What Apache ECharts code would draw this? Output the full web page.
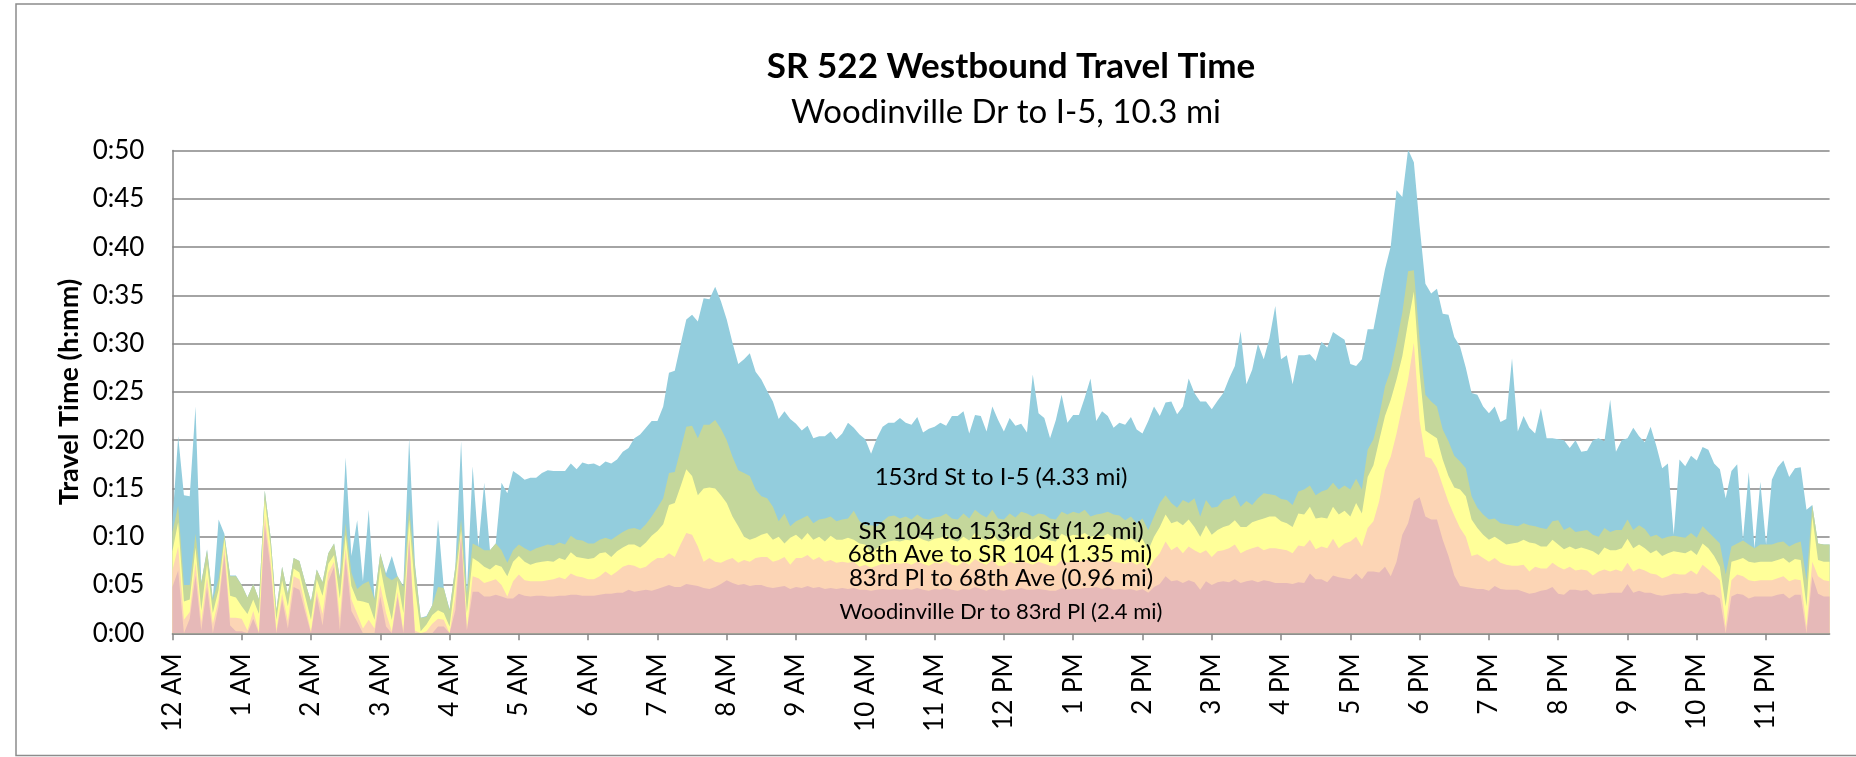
<!DOCTYPE html>
<html>
<head>
<meta charset="utf-8">
<title>SR 522 Westbound Travel Time</title>
<script src="https://cdn.jsdelivr.net/npm/echarts@6/dist/echarts.min.js"></script>
<style>
  html, body { margin: 0; padding: 0; background: #ffffff; }
  #chart { width: 1856px; height: 757px; }
</style>
</head>
<body>
<div id="chart"></div>
<script>
// Hour tick labels along the time axis (one category every 5 minutes).
const hourLabels = ['12 AM','1 AM','2 AM','3 AM','4 AM','5 AM','6 AM','7 AM','8 AM','9 AM','10 AM','11 AM',
                    '12 PM','1 PM','2 PM','3 PM','4 PM','5 PM','6 PM','7 PM','8 PM','9 PM','10 PM','11 PM'];

// Y-axis tick values, in minutes.
const yTicks = [0, 5, 10, 15, 20, 25, 30, 35, 40, 45, 50];

// Cumulative travel time (minutes) from Woodinville Dr to the end of each segment,
// one value per 5-minute interval, 12 values per row = one hour.
const toPl83 = [
  4.8, 6.5, 0, 1.5, 6.0, 0.3, 4.8, 0, 2.8, 8.2, 0.8, 0.2,
  0.2, 0, 1.5, 0, 11.2, 6.8, 0, 3.5, 0.5, 4.8, 4.5, 2.2,
  0, 3.9, 0.8, 5.4, 6.9, 0.3, 7.8, 2.3, 1.2, 0, 0, 0,
  3.8, 0.7, 0, 3.8, 0, 9.7, 0, 0, 0, 0, 0.7, 0.7,
  0, 2.4, 10.0, 0.3, 4.3, 4.3, 3.8, 3.8, 4.0, 3.8, 3.6, 3.6,
  4.1, 3.9, 3.8, 3.9, 3.9, 3.8, 3.8, 3.9, 3.9, 4.0, 4.0, 3.9,
  3.9, 3.9, 4.0, 4.1, 4.1, 4.2, 4.2, 4.5, 4.3, 4.4, 4.5, 4.4,
  4.6, 4.8, 5.0, 4.8, 4.8, 5.1, 5.0, 4.9, 4.7, 4.6, 4.8, 5.1,
  5.5, 5.2, 5.0, 5.1, 4.9, 5.0, 5.0, 4.8, 4.7, 4.8, 4.9, 4.6,
  4.8, 4.7, 4.9, 4.7, 4.8, 4.6, 4.7, 4.6, 4.7, 4.6, 4.7, 4.5,
  4.5, 4.4, 4.5, 4.6, 4.5, 4.6, 4.5, 4.6, 4.5, 4.7, 4.5, 4.4,
  4.6, 4.5, 4.7, 4.5, 4.4, 4.6, 4.5, 4.8, 4.6, 4.4, 4.7, 4.5,
  4.4, 4.6, 4.5, 4.7, 4.5, 4.5, 4.6, 4.5, 4.4, 4.4, 4.7, 4.5,
  4.6, 4.6, 4.7, 4.7, 4.8, 4.6, 4.8, 4.5, 4.6, 4.5, 4.6, 4.4,
  4.6, 4.2, 4.8, 5.1, 5.9, 5.4, 5.5, 5.2, 5.5, 5.3, 4.5, 5.4,
  5.0, 5.3, 5.4, 5.3, 5.6, 5.2, 5.4, 5.5, 5.3, 5.5, 5.4, 5.2,
  5.2, 5.2, 5.1, 5.3, 5.2, 6.2, 5.6, 5.6, 5.3, 6.0, 5.8, 5.7,
  5.6, 6.2, 5.6, 6.4, 6.4, 6.3, 6.9, 5.9, 7.4, 10.2, 11.4, 13.7,
  14.1, 12.1, 11.8, 11.8, 9.7, 8.0, 6.0, 4.9, 4.8, 4.7, 4.6, 4.6,
  4.4, 4.9, 4.6, 4.5, 4.5, 4.5, 4.3, 4.1, 4.2, 4.4, 4.5, 4.8,
  4.1, 4.0, 4.5, 4.5, 4.4, 4.5, 4.0, 4.1, 4.1, 4.2, 4.2, 4.2,
  5.1, 4.2, 4.4, 4.2, 4.2, 4.0, 3.9, 4.0, 4.1, 4.1, 4.2, 4.1,
  4.1, 4.3, 4.0, 4.0, 3.6, 0, 3.8, 4.1, 4.0, 3.6, 3.8, 3.8,
  3.8, 3.8, 4.0, 4.1, 3.6, 4.0, 4.0, 0, 5.9, 4.1, 3.8, 3.8
];

const toAve68 = [
  6.5, 9.0, 1.4, 2.2, 7.3, 1.2, 5.8, 1.0, 3.5, 9.0, 1.6, 1.6,
  1.5, 0.3, 2.3, 0.1, 12.2, 7.6, 0.3, 4.1, 1.3, 5.9, 5.6, 2.8,
  0.2, 4.4, 2.0, 6.3, 7.4, 1.6, 8.8, 3.5, 2.0, 0.5, 1.4, 0.5,
  5.0, 2.1, 0.2, 4.3, 0.2, 10.3, 0.3, 0, 0.2, 1.0, 1.5, 1.4,
  0, 3.8, 10.5, 0.4, 5.9, 5.7, 5.2, 5.4, 5.6, 5.0, 3.8, 5.4,
  6.1, 5.5, 5.4, 5.4, 5.4, 5.5, 5.6, 5.8, 5.6, 6.2, 5.9, 5.8,
  5.6, 5.6, 5.9, 6.4, 6.0, 6.4, 6.9, 7.1, 7.0, 6.7, 6.9, 7.4,
  7.8, 7.8, 8.3, 7.9, 9.2, 10.4, 10.2, 9.0, 7.4, 7.8, 7.4, 7.3,
  7.6, 7.8, 7.3, 7.6, 7.4, 7.8, 7.9, 7.9, 7.4, 7.6, 7.9, 7.1,
  7.8, 7.8, 8.1, 7.6, 7.9, 7.4, 7.6, 7.3, 7.4, 7.3, 7.4, 6.9,
  7.1, 6.8, 7.0, 7.2, 7.1, 7.3, 7.2, 7.3, 7.1, 7.4, 7.2, 7.0,
  7.3, 7.2, 7.5, 7.1, 7.0, 7.4, 7.1, 7.7, 7.3, 7.1, 7.6, 7.0,
  7.0, 7.4, 7.2, 7.5, 7.3, 7.1, 7.4, 7.2, 7.0, 7.0, 7.6, 7.3,
  7.5, 7.4, 7.6, 7.6, 7.5, 7.4, 7.7, 7.4, 7.3, 7.2, 7.4, 7.1,
  7.4, 6.6, 7.6, 8.3, 9.5, 8.6, 9.0, 8.3, 9.0, 8.6, 8.3, 8.6,
  7.9, 8.5, 8.6, 8.8, 9.2, 8.3, 8.6, 8.8, 9.0, 8.6, 8.8, 8.8,
  8.7, 8.6, 8.3, 9.1, 9.0, 9.7, 8.7, 9.0, 8.8, 9.8, 8.8, 9.3,
  9.5, 10.0, 9.0, 10.9, 11.6, 13.7, 16.9, 18.3, 20.7, 23.5, 26.3, 30.1,
  22.0, 18.3, 18.1, 17.1, 15.3, 13.6, 12.2, 10.9, 10.0, 8.0, 8.2, 7.8,
  7.4, 7.8, 7.3, 7.1, 7.0, 7.0, 7.1, 6.4, 6.9, 6.7, 6.7, 7.3,
  6.9, 6.6, 6.9, 6.5, 6.6, 6.5, 6.0, 6.4, 6.6, 6.4, 6.6, 6.4,
  7.3, 6.4, 6.7, 6.5, 6.2, 6.1, 5.7, 5.9, 6.2, 6.1, 6.1, 6.5,
  6.1, 7.1, 6.6, 6.1, 5.5, 0.7, 5.5, 6.1, 5.9, 5.5, 5.4, 5.5,
  5.5, 5.5, 5.7, 5.9, 5.4, 5.6, 5.5, 0.7, 7.4, 5.9, 5.5, 5.4
];

const toSR104 = [
  8.5, 11.5, 3.3, 3.5, 8.9, 2.4, 7.2, 2.1, 4.5, 9.8, 3.9, 3.7,
  2.8, 2.0, 3.5, 2.0, 13.8, 9.0, 1.4, 5.5, 2.8, 6.7, 6.3, 3.8,
  1.4, 5.6, 3.9, 7.2, 8.1, 3.6, 10.2, 4.9, 3.4, 3.3, 3.1, 1.4,
  6.9, 3.8, 1.4, 5.5, 2.1, 11.8, 4.8, 0.2, 0.9, 1.9, 2.4, 2.1,
  0.7, 5.5, 10.7, 2.1, 7.8, 7.4, 6.9, 6.6, 7.1, 6.9, 5.9, 7.4,
  8.0, 7.4, 7.1, 7.3, 7.4, 7.5, 7.4, 7.8, 7.6, 8.4, 7.9, 7.8,
  7.7, 7.8, 8.3, 8.4, 7.9, 8.5, 8.9, 9.2, 9.2, 8.9, 9.4, 10.1,
  10.6, 11.3, 13.3, 13.5, 15.2, 17.0, 16.3, 14.3, 15.0, 15.1, 15.0, 14.3,
  13.5, 12.1, 11.1, 10.0, 9.7, 9.9, 10.2, 10.4, 9.7, 10.0, 9.3, 9.9,
  10.2, 9.7, 10.4, 9.7, 10.0, 9.5, 10.1, 9.7, 9.7, 9.9, 9.7, 9.3,
  9.2, 8.3, 8.8, 9.3, 9.5, 9.6, 9.5, 9.7, 9.6, 10.0, 9.7, 9.5,
  9.8, 9.9, 10.1, 9.7, 9.5, 10.0, 9.6, 10.4, 9.9, 9.6, 10.3, 9.6,
  9.5, 10.1, 9.8, 10.2, 10.0, 9.7, 10.1, 9.9, 9.6, 9.5, 10.3, 10.0,
  10.2, 10.1, 10.4, 10.0, 10.1, 10.0, 10.3, 9.9, 9.8, 9.6, 9.9, 9.4,
  9.8, 8.6, 10.0, 11.0, 12.3, 11.4, 11.6, 11.2, 11.8, 11.0, 10.0, 11.2,
  10.2, 10.7, 11.0, 11.2, 11.7, 11.0, 11.0, 11.5, 11.7, 11.9, 12.1, 12.1,
  11.6, 11.4, 11.0, 12.4, 12.3, 13.1, 11.9, 12.0, 11.9, 13.1, 12.3, 12.7,
  12.1, 13.5, 12.4, 16.2, 17.4, 20.0, 22.5, 24.2, 26.3, 28.7, 32.2, 35.4,
  27.0, 21.0, 20.6, 20.2, 18.0, 16.3, 15.1, 14.9, 14.2, 11.8, 10.9, 10.2,
  9.7, 10.0, 9.6, 9.2, 9.3, 9.4, 9.7, 9.4, 9.3, 9.0, 9.0, 9.7,
  9.2, 8.7, 9.0, 8.7, 8.9, 8.7, 8.5, 8.1, 8.9, 8.6, 8.6, 8.8,
  9.8, 8.8, 9.2, 8.8, 8.3, 8.6, 8.0, 8.3, 8.5, 8.4, 8.3, 8.6,
  8.1, 9.3, 8.8, 8.0, 6.9, 2.8, 7.4, 7.6, 7.8, 7.4, 7.3, 7.4,
  7.4, 7.4, 7.6, 7.8, 7.3, 7.7, 7.6, 2.8, 12.1, 7.6, 7.4, 7.4
];

const toSt153 = [
  10.5, 13.2, 5.0, 5.0, 10.3, 5.2, 8.6, 3.4, 5.6, 10.2, 5.9, 5.9,
  5.0, 3.7, 5.1, 3.5, 14.8, 10.0, 2.4, 6.9, 4.1, 7.8, 7.5, 5.3,
  3.3, 6.6, 5.3, 8.3, 9.3, 5.7, 11.4, 6.3, 4.6, 5.1, 5.4, 3.5,
  8.3, 5.9, 5.5, 5.9, 4.8, 13.0, 6.9, 1.6, 1.7, 2.9, 4.8, 4.7,
  2.4, 6.9, 11.8, 4.1, 9.3, 9.0, 8.6, 8.6, 9.3, 8.6, 7.3, 8.6,
  9.2, 8.8, 8.5, 8.8, 9.0, 9.2, 9.1, 9.4, 9.2, 10.1, 9.7, 9.6,
  9.3, 9.3, 9.7, 9.9, 9.7, 10.1, 10.5, 10.8, 10.9, 10.7, 11.3, 12.1,
  13.0, 14.0, 16.6, 16.7, 19.0, 21.4, 21.5, 20.2, 21.6, 21.6, 22.1, 21.2,
  20.0, 18.3, 16.9, 16.6, 16.3, 14.9, 14.2, 14.0, 13.1, 11.6, 12.4, 11.1,
  11.6, 11.9, 12.2, 11.4, 11.8, 11.9, 12.1, 11.6, 11.8, 11.9, 12.7, 11.6,
  11.2, 11.2, 11.1, 11.6, 12.1, 12.2, 11.9, 12.1, 11.8, 12.3, 11.9, 11.8,
  12.0, 12.1, 12.4, 11.9, 11.8, 12.4, 11.9, 12.8, 12.3, 12.0, 12.8, 11.9,
  11.8, 12.4, 12.0, 12.6, 12.4, 12.1, 12.4, 12.3, 11.9, 11.8, 12.6, 12.3,
  12.6, 12.4, 12.8, 12.1, 12.3, 12.4, 12.6, 12.3, 12.2, 11.7, 12.1, 11.4,
  11.9, 10.7, 12.1, 13.5, 14.3, 13.5, 13.0, 13.8, 13.5, 14.0, 12.1, 13.8,
  13.0, 13.1, 13.8, 13.9, 14.3, 13.1, 13.7, 13.3, 14.0, 14.5, 14.4, 14.3,
  13.9, 13.8, 13.3, 14.7, 14.9, 15.3, 14.3, 14.7, 14.9, 15.6, 14.9, 15.3,
  14.9, 16.0, 14.9, 19.0, 20.1, 22.5, 25.6, 27.3, 30.1, 33.2, 37.5, 37.6,
  30.4, 24.7, 24.0, 23.5, 21.1, 19.9, 18.4, 17.8, 17.1, 14.2, 13.0, 12.3,
  11.8, 11.9, 11.4, 11.3, 11.2, 11.1, 11.4, 11.2, 11.1, 10.9, 10.8, 11.6,
  11.7, 10.7, 11.0, 10.5, 10.6, 10.7, 10.2, 10.0, 10.9, 10.5, 10.7, 10.7,
  11.8, 10.7, 11.2, 10.8, 10.0, 10.2, 9.8, 10.0, 10.1, 10.0, 9.9, 10.4,
  9.9, 11.1, 10.5, 9.9, 9.3, 6.1, 9.0, 9.3, 9.6, 9.2, 8.8, 9.2,
  9.2, 9.2, 9.4, 9.5, 9.0, 9.3, 9.5, 5.5, 13.3, 9.3, 9.2, 9.2
];

const toI5 = [
  11.5, 20.4, 14.3, 14.2, 23.5, 5.3, 8.7, 3.6, 11.8, 10.3, 6.0, 6.0,
  5.0, 3.7, 5.1, 3.5, 14.8, 10.0, 2.4, 6.9, 4.1, 7.8, 7.5, 5.3,
  3.3, 6.6, 5.3, 8.3, 9.3, 5.8, 18.2, 8.0, 11.7, 5.4, 12.8, 3.6,
  8.3, 6.2, 8.0, 5.9, 4.9, 20.2, 7.2, 1.6, 1.8, 2.9, 11.8, 4.7,
  2.5, 6.9, 19.9, 4.2, 17.3, 9.0, 15.6, 8.6, 9.3, 15.6, 14.5, 16.8,
  16.4, 15.9, 16.1, 16.1, 16.6, 16.9, 16.8, 16.8, 16.8, 17.6, 17.0, 17.7,
  17.5, 17.6, 17.3, 17.8, 17.6, 18.0, 18.8, 19.2, 20.2, 20.6, 21.3, 22.0,
  22.0, 23.5, 27.0, 27.2, 29.9, 32.5, 33.0, 32.3, 34.7, 34.6, 35.9, 34.4,
  32.5, 30.1, 27.9, 28.4, 29.0, 27.1, 26.3, 25.1, 24.0, 22.2, 23.0, 22.2,
  21.7, 21.0, 21.5, 20.2, 20.4, 20.4, 20.9, 20.1, 20.7, 21.8, 21.3, 20.6,
  20.1, 18.6, 20.2, 21.4, 21.8, 21.8, 22.3, 21.8, 21.6, 22.4, 20.8, 21.2,
  21.4, 21.8, 21.5, 22.5, 22.5, 23.0, 20.7, 22.6, 22.5, 20.9, 23.5, 22.1,
  20.9, 22.3, 21.5, 21.7, 20.8, 26.8, 22.8, 22.3, 20.2, 22.1, 24.7, 21.8,
  22.6, 22.6, 24.4, 26.4, 22.0, 23.0, 22.5, 21.3, 21.8, 21.6, 22.4, 21.1,
  20.7, 22.0, 23.5, 22.5, 23.9, 24.0, 22.7, 23.5, 26.4, 24.9, 24.0, 24.0,
  23.2, 24.1, 24.9, 26.4, 27.7, 31.3, 25.8, 27.3, 30.0, 28.4, 30.6, 33.9,
  28.4, 28.8, 25.8, 28.8, 28.8, 28.9, 28.2, 30.2, 29.6, 31.2, 30.8, 30.4,
  27.9, 27.7, 28.4, 31.5, 31.5, 34.6, 37.7, 40.1, 45.9, 45.2, 50.1, 48.8,
  42.2, 36.2, 35.2, 35.7, 33.1, 33.0, 30.7, 29.7, 27.5, 24.9, 24.7, 23.5,
  22.8, 23.5, 21.9, 22.2, 28.5, 20.9, 22.5, 21.3, 20.7, 23.3, 20.2, 20.2,
  20.1, 20.0, 19.2, 20.0, 18.8, 18.9, 20.0, 20.2, 19.9, 24.2, 18.8, 20.0,
  20.2, 21.3, 20.4, 19.8, 21.4, 19.4, 17.1, 17.6, 10.2, 18.0, 17.3, 18.4,
  17.9, 19.3, 19.0, 17.6, 17.0, 14.0, 16.8, 17.5, 9.7, 16.7, 8.8, 15.7,
  9.2, 15.9, 17.2, 17.9, 16.2, 17.1, 17.2, 12.8, 13.3, 9.3, 9.2, 9.2
];

// Segment names and band colours, bottom band first.
const segmentNames = [
  'Woodinville Dr to 83rd Pl (2.4 mi)',
  '83rd Pl to 68th Ave (0.96 mi)',
  '68th Ave to SR 104 (1.35 mi)',
  'SR 104 to 153rd St (1.2 mi)',
  '153rd St to I-5 (4.33 mi)'
];
const segmentColors = ['#E6B9B8', '#FCD5B5', '#FFFF99', '#C4D79B', '#93CDDD'];
const cumulative = [toPl83, toAve68, toSR104, toSt153, toI5];

// 5-minute categories: hour labels on the hour, "h:mm AM/PM" in between.
const categories = [];
hourLabels.forEach(function (h) {
  for (let m = 0; m < 60; m += 5) {
    categories.push(m === 0 ? h : h.replace(' ', ':' + String(m).padStart(2, '0') + ' '));
  }
});

const FONT = 'Lato';

// Each band is drawn as an area from zero up to the cumulative time at the end of
// its segment; the outermost (I-5) area is painted first and the inner ones over it,
// so every visible band is the time spent on that segment.
const series = [];
for (let k = cumulative.length - 1; k >= 0; k--) {
  series.push({
    name: segmentNames[k],
    type: 'line',
    data: cumulative[k],
    symbol: 'none',
    silent: true,
    lineStyle: { width: 0 },
    areaStyle: { color: segmentColors[k], opacity: 1 },
    z: 2
  });
}

const gridLeft = 172.4, gridRight = 26.4, gridTop = 150.6, gridBottom = 123.7;

const chart = echarts.init(document.getElementById('chart'), null, { renderer: 'canvas' });
chart.setOption({
  animation: false,
  backgroundColor: '#ffffff',
  textStyle: { fontFamily: FONT },
  grid: { left: gridLeft, right: gridRight, top: gridTop, bottom: gridBottom, containLabel: false },
  xAxis: {
    type: 'category',
    data: categories,
    boundaryGap: false,
    axisLine: { show: true, lineStyle: { color: '#868686', width: 1.5 } },
    axisTick: { show: true, interval: 11, length: 7, lineStyle: { color: '#868686', width: 1.5 } },
    axisLabel: {
      interval: 11,
      rotate: 90,
      margin: 20,
      color: '#000000',
      fontFamily: FONT,
      fontSize: 26
    },
    splitLine: { show: false }
  },
  yAxis: {
    type: 'value',
    min: yTicks[0],
    max: yTicks[yTicks.length - 1],
    interval: yTicks[1] - yTicks[0],
    axisLine: { show: true, lineStyle: { color: '#868686', width: 1.5 } },
    axisTick: { show: false },
    axisLabel: {
      margin: 28,
      color: '#000000',
      fontFamily: FONT,
      fontSize: 26,
      formatter: function (v) { return '0:' + String(v).padStart(2, '0'); }
    },
    splitLine: { show: true, lineStyle: { color: '#868686', width: 1.5 } }
  },
  series: series,
  graphic: [
    { type: 'rect', silent: true, z: 100,
      shape: { x: 16, y: 4, width: 1900, height: 751.5 },
      style: { fill: 'none', stroke: '#8c8c8c', lineWidth: 1.5 } },
    { type: 'text', silent: true, z: 100, x: 1011, y: 67,
      style: { text: 'SR 522 Westbound Travel Time', fontFamily: FONT, fontWeight: 'bold', fontSize: 35,
               fill: '#000000', align: 'center', verticalAlign: 'middle' } },
    { type: 'text', silent: true, z: 100, x: 1006, y: 112,
      style: { text: 'Woodinville Dr to I-5, 10.3 mi', fontFamily: FONT, fontSize: 33,
               fill: '#000000', align: 'center', verticalAlign: 'middle' } },
    { type: 'text', silent: true, z: 100, x: 69, y: 392, rotation: Math.PI / 2,
      style: { text: 'Travel Time (h:mm)', fontFamily: FONT, fontWeight: 'bold', fontSize: 27,
               fill: '#000000', align: 'center', verticalAlign: 'middle' } },
    { type: 'text', silent: true, z: 100, x: 1001, y: 477,
      style: { text: segmentNames[4], fontFamily: FONT, fontSize: 24, fill: '#000000', align: 'center', verticalAlign: 'middle' } },
    { type: 'text', silent: true, z: 100, x: 1001, y: 531,
      style: { text: segmentNames[3], fontFamily: FONT, fontSize: 24, fill: '#000000', align: 'center', verticalAlign: 'middle' } },
    { type: 'text', silent: true, z: 100, x: 1000, y: 554,
      style: { text: segmentNames[2], fontFamily: FONT, fontSize: 24, fill: '#000000', align: 'center', verticalAlign: 'middle' } },
    { type: 'text', silent: true, z: 100, x: 1001, y: 578,
      style: { text: segmentNames[1], fontFamily: FONT, fontSize: 24, fill: '#000000', align: 'center', verticalAlign: 'middle' } },
    { type: 'text', silent: true, z: 100, x: 1001, y: 612,
      style: { text: segmentNames[0], fontFamily: FONT, fontSize: 22, fill: '#000000', align: 'center', verticalAlign: 'middle' } }
  ]
});
</script>
</body>
</html>
